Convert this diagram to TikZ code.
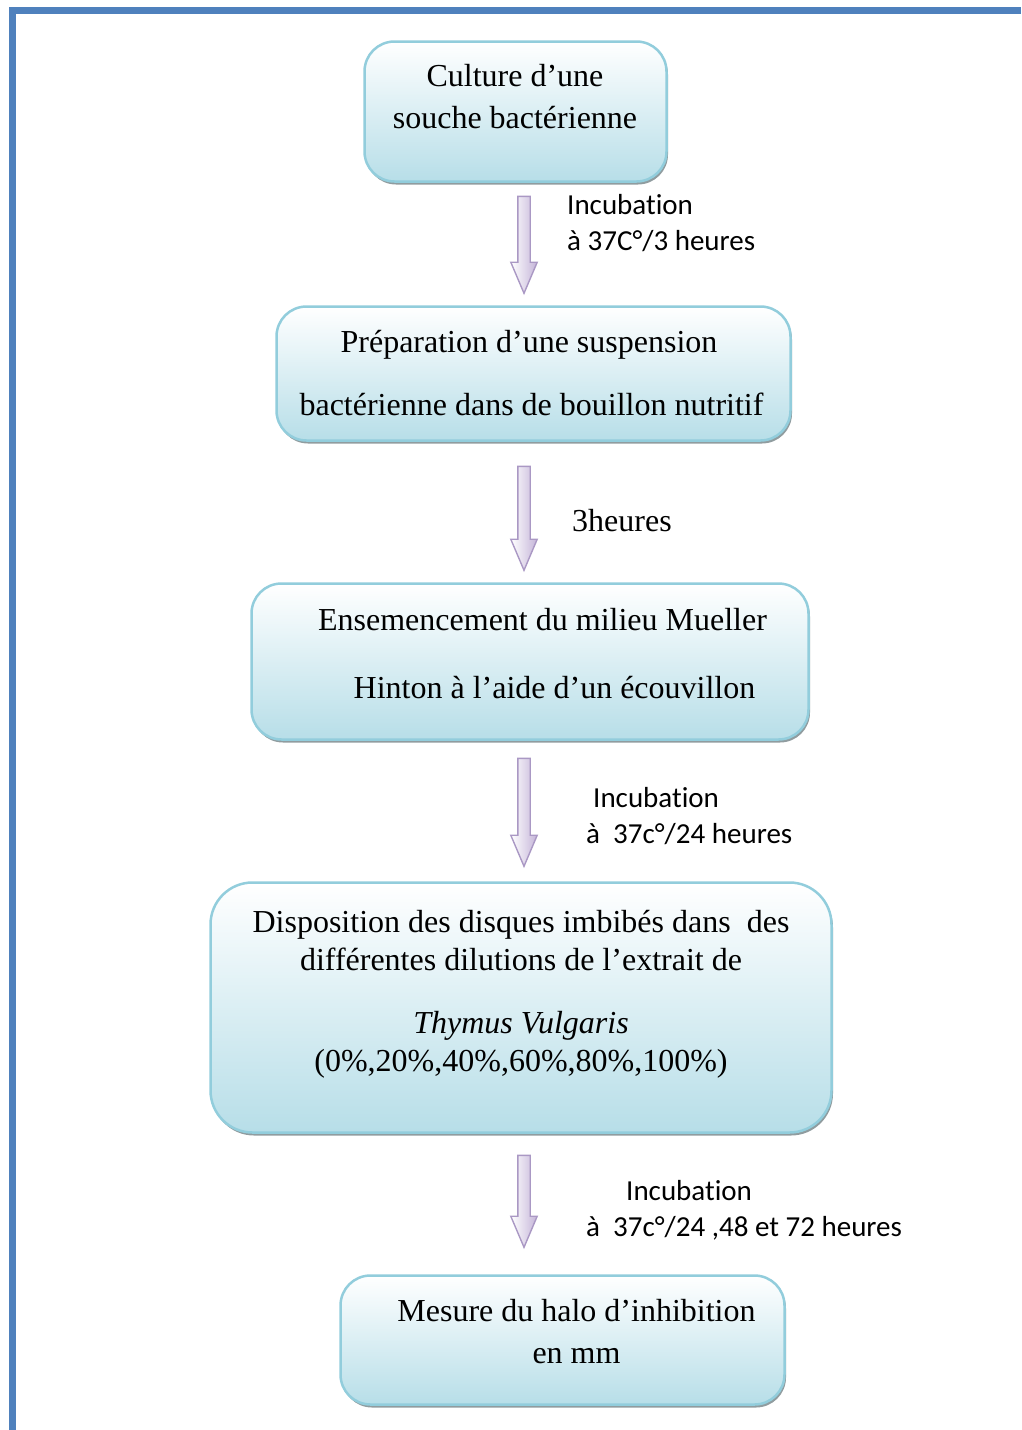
\documentclass[tikz,border=0pt]{standalone}
\usepackage{fontspec}
\setmainfont{Liberation Serif}
\newfontfamily\labelfont[Ligatures={NoCommon,NoRare,NoContextual}]{Carlito}
\usetikzlibrary{shapes.arrows,shadows}

\definecolor{frameblue}{RGB}{79,129,189}
\definecolor{boxline}{RGB}{146,205,220}
\definecolor{boxfill}{RGB}{183,222,232}
\definecolor{arrowline}{RGB}{170,152,196}
\definecolor{arrowfill}{RGB}{196,180,216}

\begin{document}
\begin{tikzpicture}[
    % One unit is one pixel of the page, y going down
    x=1pt, y=-1pt,
    % Define styles for the elements
    frame_style/.style={draw=frameblue, line width=7pt},
    box_style/.style={draw=boxline, line width=2.5pt, rounded corners=30pt,
      top color=white, bottom color=boxfill,
      drop shadow={shadow xshift=1.5pt, shadow yshift=-3pt, fill=gray!70!boxfill, opacity=1}},
    text_style/.style={font=\fontsize{32}{42}\selectfont, align=center, inner sep=0pt},
    arrow_style/.style={single arrow, draw=arrowline, line width=1.4pt, rotate=-90,
      inner sep=5.5pt, minimum width=25pt, single arrow head extend=7pt,
      single arrow tip angle=46, left color=white, right color=arrowfill},
    label_style/.style={font=\labelfont\fontsize{29}{36}\selectfont, align=left, anchor=west, inner sep=0pt}
  ]

  % --- Step 1: Fix the page and draw the frame ---
  \useasboundingbox (0,0) rectangle (1021,1430);
  \draw[frame_style] (9,10.5) -- (1021,10.5);
  \draw[frame_style] (12.5,7) -- (12.5,1430);

  % --- Step 2: The five boxes of the protocol ---
  \node[box_style, minimum width=302pt, minimum height=140pt] (culture) at (515.5,111.5) {};
  \node[box_style, minimum width=514pt, minimum height=134pt] (suspension) at (533.5,373.5) {};
  \node[box_style, minimum width=557pt, minimum height=156pt] (ensemencement) at (530,661.5) {};
  \node[box_style, rounded corners=42pt, minimum width=621pt, minimum height=250pt] (disques) at (521,1007.5) {};
  \node[box_style, minimum width=444pt, minimum height=129pt] (mesure) at (562.5,1340) {};

  % Texts of the boxes
  \node[text_style] (culture_text) at (515,97) {Culture d’une\\souche bactérienne};
  \node[text_style] (suspension_text) at (531.5,373.5)
    {Préparation d’une suspension\hspace*{5pt}\\[21pt]bactérienne dans de bouillon nutritif};
  \node[text_style] (ensemencement_text) at (554.5,654)
    {Ensemencement du milieu Mueller\hspace*{24pt}\\[26pt]Hinton à l’aide d’un écouvillon};
  \node[text_style, font=\fontsize{32}{38}\selectfont] (disques_text) at (521,994)
    {Disposition des disques imbibés dans~ des\\différentes dilutions de l’extrait de\\[25pt]
     \textit{Thymus Vulgaris}\\(0\%,20\%,40\%,60\%,80\%,100\%)};
  \node[text_style] (mesure_text) at (576.5,1332) {Mesure du halo d’inhibition\\en mm};

  % --- Step 3: The arrows between the boxes ---
  \node[arrow_style, minimum height=97pt] (arrow_a) at (524,237.5) {};
  \node[arrow_style, minimum height=104pt] (arrow_b) at (524,511) {};
  \node[arrow_style, minimum height=108pt] (arrow_c) at (524,805) {};
  \node[arrow_style, minimum height=92pt] (arrow_d) at (524,1194) {};

  % --- Step 4: The labels beside the arrows ---
  \node[label_style] (label_a) at (567,223) {Incubation\\à 37C°/3 heures};
  \node[label_style, font=\fontsize{32}{42}\selectfont] (label_b) at (572,521) {3heures};
  \node[label_style] (label_c) at (586,816) {\hspace*{7pt}Incubation\\à~~37c°/24 heures};
  \node[label_style] (label_d) at (586,1210) {\hspace*{40pt}Incubation\\à~~37c°/24 ,48 et 72 heures};

\end{tikzpicture}
\end{document}
